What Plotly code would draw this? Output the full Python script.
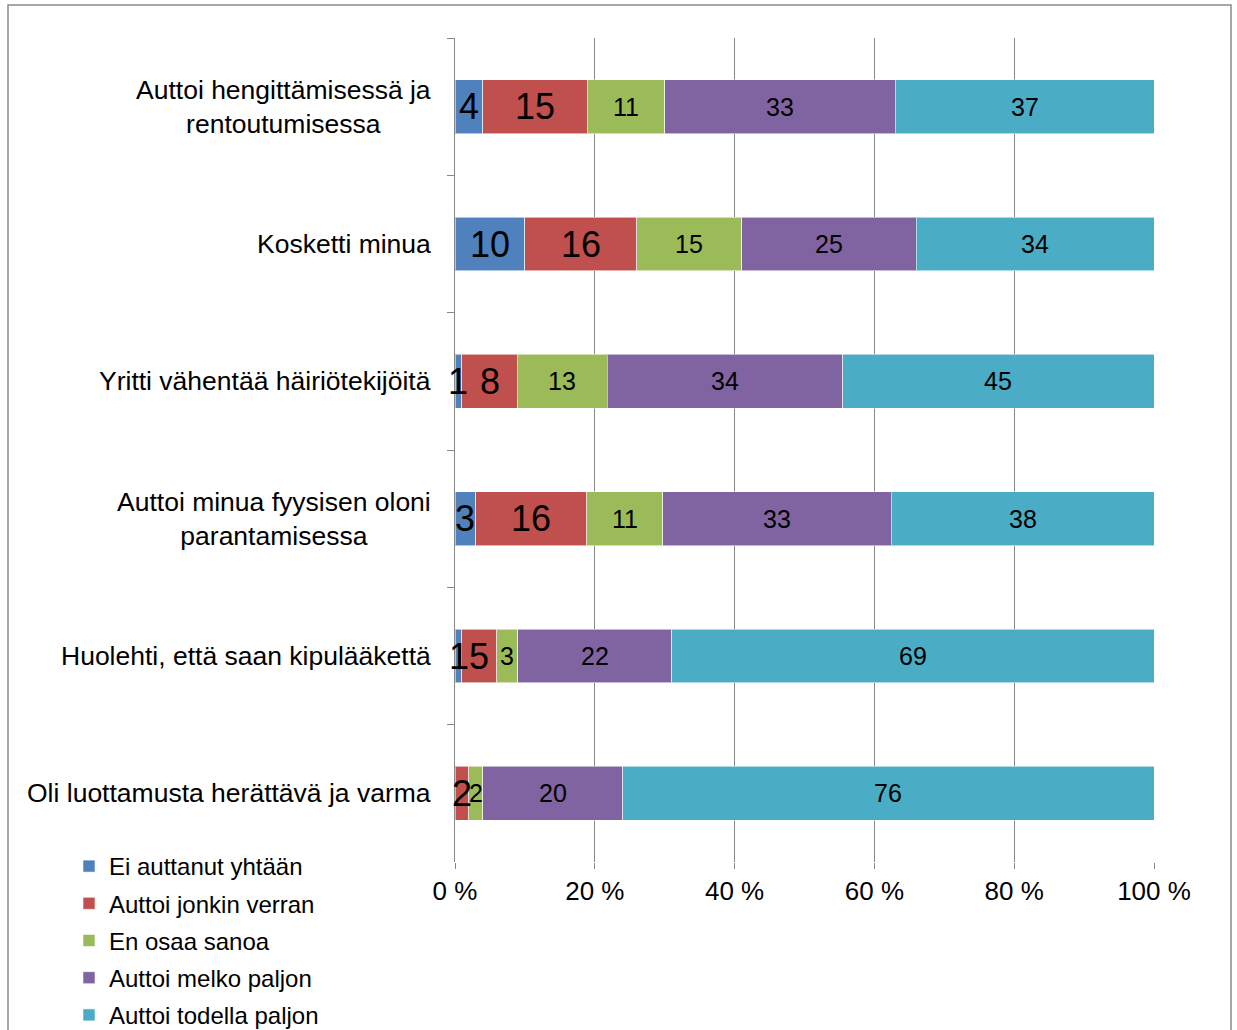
import plotly.graph_objects as go

# Survey statements (top to bottom)
categories = [
    "Auttoi hengittämisessä ja<br>rentoutumisessa",
    "Kosketti minua",
    "Yritti vähentää häiriötekijöitä",
    "Auttoi minua fyysisen oloni<br>parantamisessa",
    "Huolehti, että saan kipulääkettä",
    "Oli luottamusta herättävä ja varma",
]

series_names = [
    "Ei auttanut yhtään",
    "Auttoi jonkin verran",
    "En osaa sanoa",
    "Auttoi melko paljon",
    "Auttoi todella paljon",
]

ei_auttanut = [4, 10, 1, 3, 1, 0]
jonkin_verran = [15, 16, 8, 16, 5, 2]
en_osaa = [11, 15, 13, 11, 3, 2]
melko_paljon = [33, 25, 34, 33, 22, 20]
todella_paljon = [37, 34, 45, 38, 69, 76]

x_tick_values = [0, 20, 40, 60, 80, 100]
x_tick_labels = ["0 %", "20 %", "40 %", "60 %", "80 %", "100 %"]

series_values = [ei_auttanut, jonkin_verran, en_osaa, melko_paljon, todella_paljon]
colors = ["#4F81BD", "#C0504D", "#9BBB59", "#8064A2", "#4BACC6"]
label_sizes = [36, 36, 25, 25, 25]

FONT = "Liberation Sans, Arial, sans-serif"
GRID = "#888888"

# Plot area geometry (pixels) used for paper-coordinate placement
W, H = 1237, 1030
L, R, T, B = 455, 83, 38, 168
PW, PH = W - L - R, H - T - B


def px_x(x):
    return (x - L) / PW


def px_y(y):
    return (H - B - y) / PH


fig = go.Figure()
for name, vals, col in zip(series_names, series_values, colors):
    fig.add_trace(go.Bar(
        y=categories,
        x=vals,
        name=name,
        orientation="h",
        marker=dict(color=col, line=dict(color="rgba(255,255,255,0.55)", width=1)),
        legendgroup=name,
        hoverinfo="x+name",
    ))

annotations = []
# Segment value labels, placed at the centre of each normalised segment
for i, cat in enumerate(categories):
    row = [s[i] for s in series_values]
    total = sum(row)
    cum = 0
    for j, v in enumerate(row):
        if v > 0:
            centre = (cum + v / 2) / total * 100
            annotations.append(dict(
                x=centre, y=cat, xref="x", yref="y", text=str(v),
                showarrow=False, xanchor="center", yanchor="middle",
                font=dict(family=FONT, size=label_sizes[j], color="#000000"),
            ))
        cum += v

# Category labels, right-aligned to the axis with centred lines
for cat in categories:
    annotations.append(dict(
        x=px_x(433), y=cat, xref="paper", yref="y", text=cat,
        showarrow=False, xanchor="right", yanchor="middle", align="center",
        font=dict(family=FONT, size=26.5, color="#000000"),
    ))

fig.update_layout(
    width=W, height=H,
    margin=dict(l=L, r=R, t=T, b=B, pad=0, autoexpand=False),
    paper_bgcolor="white",
    plot_bgcolor="white",
    barmode="stack",
    barnorm="percent",
    bargap=0.607,
    font=dict(family=FONT, size=24, color="#000000"),
    annotations=annotations,
    showlegend=True,
    legend=dict(
        x=px_x(69), y=px_y(844), xanchor="left", yanchor="top",
        orientation="v", traceorder="grouped", tracegroupgap=3,
        font=dict(family=FONT, size=24, color="#000000"),
        bgcolor="rgba(0,0,0,0)",
    ),
    xaxis=dict(
        range=[0, 100], tickvals=x_tick_values, ticktext=x_tick_labels,
        showgrid=True, gridcolor=GRID, gridwidth=1,
        ticks="outside", ticklen=6, tickcolor=GRID,
        showline=False, zeroline=False,
        tickfont=dict(family=FONT, size=26, color="#000000"),
        fixedrange=True,
    ),
    yaxis=dict(
        autorange="reversed", showticklabels=False,
        ticks="outside", tickson="boundaries", ticklen=7, tickcolor=GRID,
        showline=True, linecolor=GRID, linewidth=1,
        showgrid=False, zeroline=False, fixedrange=True,
    ),
    shapes=[dict(
        type="rect", xref="paper", yref="paper",
        x0=px_x(8), x1=px_x(1231), y0=px_y(1045), y1=px_y(5),
        line=dict(color="#8a8a8a", width=1.5), fillcolor="rgba(0,0,0,0)",
        layer="below",
    )],
)

fig.write_html("out.html")
